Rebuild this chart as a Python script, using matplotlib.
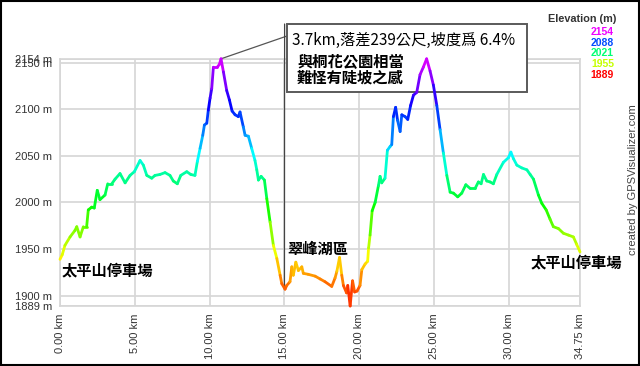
import matplotlib
matplotlib.use("Agg")
import matplotlib.pyplot as plt
import numpy as np
from matplotlib.collections import LineCollection
from matplotlib.patches import Rectangle
from matplotlib.colors import Normalize

# ---- data ----
dist_km = [0.00, 0.15, 0.33, 0.67, 1.00, 1.12, 1.34, 1.56, 1.78, 1.89, 2.12, 2.29, 2.49, 2.67,
           3.01, 3.19, 3.46, 3.68, 4.01, 4.35, 4.68, 4.97, 5.35, 5.57, 5.80, 6.13, 6.35, 6.68,
           7.02, 7.35, 7.57, 7.84, 8.07, 8.47, 8.74, 9.02, 9.18, 9.36, 9.54, 9.65, 9.81, 9.91,
           10.03, 10.14, 10.25, 10.51, 10.65, 10.76, 10.92, 11.14, 11.32, 11.50, 11.70, 11.92,
           12.03, 12.25, 12.37, 12.59, 12.81, 13.03, 13.15, 13.26, 13.44, 13.66, 13.82, 14.04,
           14.26, 14.49, 14.71, 14.82, 15.04, 15.15, 15.37, 15.49, 15.59, 15.76, 15.93, 16.16,
           16.26, 16.58, 17.05, 17.38, 17.71, 18.16, 18.38, 18.50, 18.68, 18.83, 18.94, 19.15,
           19.23, 19.39, 19.55, 19.69, 19.85, 20.05, 20.17, 20.39, 20.56, 20.62, 20.72, 20.86,
           21.06, 21.28, 21.39, 21.50, 21.72, 21.88, 22.06, 22.17, 22.28, 22.43, 22.56, 22.73,
           22.84, 23.06, 23.24, 23.43, 23.62, 23.84, 24.06, 24.28, 24.50, 24.73, 24.95, 25.18,
           25.40, 25.62, 25.85, 26.07, 26.29, 26.58, 26.85, 27.12, 27.41, 27.74, 27.96, 28.14,
           28.30, 28.52, 28.74, 28.96, 29.19, 29.63, 29.97, 30.13, 30.30, 30.53, 30.86, 31.20,
           31.42, 31.64, 31.97, 32.20, 32.49, 32.75, 32.97, 33.31, 33.64, 33.98, 34.31, 34.53,
           34.75]
elev_m = [1939, 1944, 1954, 1963, 1970, 1974, 1963, 1974, 1974, 1992, 1995, 1994, 2013, 2003,
          2008, 2020, 2020, 2025, 2031, 2021, 2029, 2033, 2045, 2040, 2029, 2026, 2029, 2030,
          2032, 2029, 2023, 2020, 2029, 2033, 2030, 2029, 2044, 2058, 2072, 2083, 2085, 2099,
          2112, 2122, 2145, 2145, 2148, 2154, 2140, 2120, 2110, 2098, 2094, 2092,
          2097, 2081, 2072, 2071, 2058, 2045, 2035, 2024, 2028, 2024, 2004, 1979,
          1954, 1940, 1922, 1913, 1907, 1911, 1915, 1931, 1922, 1936, 1927, 1931,
          1924, 1923, 1921, 1918, 1915, 1910, 1919, 1926, 1941, 1922, 1911, 1903,
          1911, 1889, 1916, 1904, 1905, 1911, 1928, 1934, 1937, 1951, 1965, 1991,
          2000, 2018, 2028, 2021, 2026, 2056, 2060, 2062, 2092, 2102, 2088, 2076,
          2094, 2092, 2089, 2104, 2115, 2118, 2137, 2145, 2154, 2141, 2126, 2104,
          2078, 2053, 2029, 2011, 2010, 2006, 2010, 2019, 2015, 2015, 2022, 2020,
          2030, 2023, 2022, 2020, 2030, 2043, 2048, 2054, 2047, 2040, 2037, 2035,
          2030, 2025, 2008, 1999, 1992, 1982, 1974, 1972, 1967, 1965, 1963, 1955,
          1947]

x_ticks = [0, 5, 10, 15, 20, 25, 30, 34.75]
x_tick_labels = ["0.00 km", "5.00 km", "10.00 km", "15.00 km", "20.00 km",
                 "25.00 km", "30.00 km", "34.75 km"]
y_ticks = [1889, 1900, 1950, 2000, 2050, 2100, 2150, 2154]
y_tick_labels = ["1889 m", "1900 m", "1950 m", "2000 m", "2050 m", "2100 m", "2150 m", "2154 m"]
legend_values = [2154, 2088, 2021, 1955, 1889]

place_labels = [("太平山停車場", 62, 270), ("翠峰湖區", 287, 249), ("太平山停車場", 531, 262)]
box_line1 = "3.7km,落差239公尺,坡度爲 6.4%"
box_line2 = "與桐花公園相當"
box_line3 = "難怪有陡坡之感"

# ---- figure ----
W, H = 640, 366
fig = plt.figure(figsize=(W / 100, H / 100), dpi=100)
fig.patch.set_facecolor("white")

def fx(px):
    return px / W

def fy(py):
    return 1 - py / H

emin, emax = 1889, 2154
ax_top = 58.8
ax_bot = 306
ax = fig.add_axes([fx(60), fy(ax_bot), fx(580) - fx(60), (ax_bot - ax_top) / H])
ax.set_xlim(0, 34.75)
ax.set_ylim(emin, emax)

grid_c = "#d6d6d6"
for s in ax.spines.values():
    s.set_color(grid_c)
    s.set_linewidth(1.2)
    s.set_zorder(0.4)
ax.set_xticks(x_ticks)
ax.set_xticklabels(x_tick_labels, rotation=90, fontsize=8, color="#333333",
                   family="Liberation Sans")
ax.set_yticks(y_ticks)
ax.set_yticklabels(y_tick_labels, fontsize=8, color="#333333", family="Liberation Sans")
ax.tick_params(length=0, pad=5.5)
ax.grid(True, color=grid_c, lw=1.2)
ax.set_axisbelow(True)

# colour by elevation: hsv hue from red (min) to magenta (max)
cmap = plt.get_cmap("hsv")
norm = Normalize(emin, emax)
def col(e):
    return cmap(norm(e) * 300 / 360)

x = np.array(dist_km)
y = np.array(elev_m)
pts = np.column_stack([x, y]).reshape(-1, 1, 2)
segs = np.concatenate([pts[:-1], pts[1:]], axis=1)
mid = (y[:-1] + y[1:]) / 2
lc = LineCollection(segs, colors=[col(e) for e in mid], linewidths=2.0,
                    capstyle="round", joinstyle="round", zorder=3)
lc.set_clip_on(False)
ax.add_collection(lc)

cjk = ["Noto Sans CJK TC", "DejaVu Sans"]

# place labels
for txt, px, py in place_labels:
    fig.text(fx(px), fy(py), txt, fontsize=11, family=cjk, weight="bold",
             ha="left", va="center", color="black", zorder=10)

# annotation box (inside the axes so the profile line draws over it)
peak_i = int(np.argmax(y))
ax.annotate("", xy=(x[peak_i], y[peak_i]), xycoords="data",
            xytext=(287, H - 36), textcoords="figure pixels",
            arrowprops=dict(arrowstyle="-", color="#555555", lw=0.9,
                            shrinkA=0, shrinkB=0), zorder=1.5, annotation_clip=False)
ax.annotate("", xy=(15.0, 1908), xycoords="data",
            xytext=(284.6, H - 24), textcoords="figure pixels",
            arrowprops=dict(arrowstyle="-", color="#444444", lw=0.9,
                            shrinkA=0, shrinkB=0), zorder=1.5, annotation_clip=False)
box = Rectangle((fx(287), fy(92)), fx(527) - fx(287), (92 - 24) / H,
                transform=fig.transFigure, facecolor="white",
                edgecolor="#5a5a5a", lw=1.4, zorder=2, clip_on=False)
ax.add_artist(box)
for txt, px, py, wt in [(box_line1, 292, 40, "normal"), (box_line2, 297, 62, "bold"),
                        (box_line3, 297, 78, "bold")]:
    ax.text(fx(px), fy(py), txt, transform=fig.transFigure, fontsize=11, family=cjk,
            weight=wt, ha="left", va="center", color="black", zorder=2.5, clip_on=False)

# elevation legend
fig.text(fx(582), fy(19), "Elevation (m)", fontsize=7.8, weight="bold",
         family="Liberation Sans", ha="center", va="center", color="#333333")
for i, v in enumerate(legend_values):
    fig.text(fx(614), fy(32 + i * 10.7), str(v), fontsize=7.5, weight="bold",
             family="Liberation Sans", ha="right", va="center", color=col(v))

fig.text(fx(633), fy(180), "created by GPSVisualizer.com", rotation=90,
         fontsize=8, family="Liberation Sans", ha="center", va="center",
         color="#444444")

# outer frame
frame = Rectangle((0.0015, 0.0025), 0.997, 0.995, transform=fig.transFigure,
                  fill=False, edgecolor="black", lw=1.5)
fig.add_artist(frame)

fig.savefig("out.png", dpi=100, facecolor="white")
